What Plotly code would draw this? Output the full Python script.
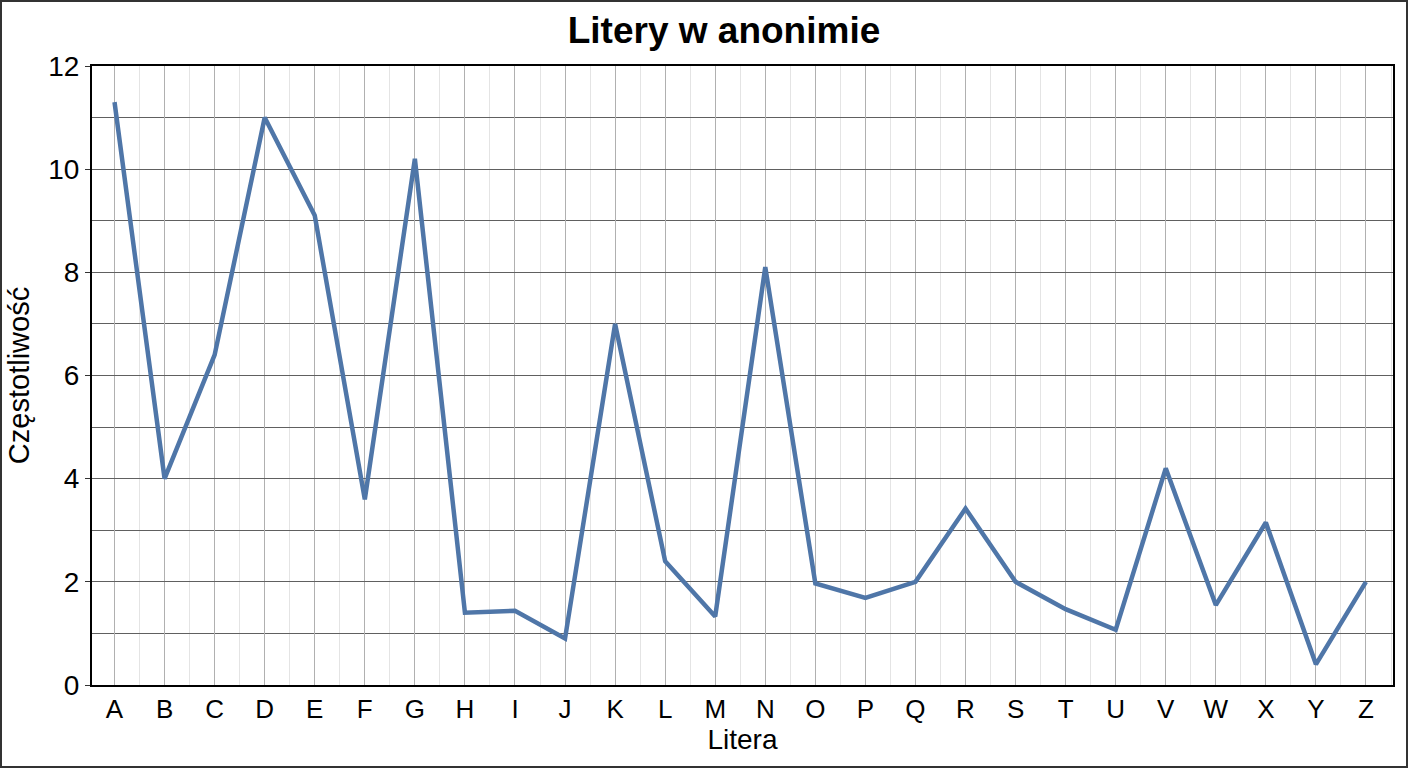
import plotly.graph_objects as go

# letters and their frequency (%)
letters = list("ABCDEFGHIJKLMNOPQRSTUVWXYZ")
freq = [11.3, 4.0, 6.4, 11.0, 9.1, 3.6, 10.2, 1.4, 1.44, 0.9,
        7.0, 2.4, 1.33, 8.1, 1.97, 1.69, 2.0, 3.42, 2.0, 1.47,
        1.07, 4.2, 1.55, 3.15, 0.4, 2.0]
y_ticks = [0, 2, 4, 6, 8, 10, 12]

FONT = "Liberation Sans, Arial, sans-serif"
W, H = 1408, 768
ml, mr, mt, mb = 92, 15, 66, 83
pw, ph = W - ml - mr, H - mt - mb

x_idx = list(range(len(letters)))

fig = go.Figure()
fig.add_trace(go.Scatter(
    x=x_idx,
    y=freq,
    mode="lines",
    line=dict(color="#4f76a8", width=4.5),
    showlegend=False,
))

fig.update_layout(
    width=W,
    height=H,
    margin=dict(l=ml, r=mr, t=mt, b=mb),
    paper_bgcolor="white",
    plot_bgcolor="white",
    font=dict(family=FONT, color="black"),
    title=dict(
        text="<b>Litery w anonimie</b>",
        x=(724 - ml) / pw, xref="paper", xanchor="center",
        y=1 - 30 / H, yanchor="middle",
        font=dict(size=37, family=FONT, color="black"),
    ),
)

# ---- x axis: letters, grid on letters + lighter lines in between ----
fig.update_xaxes(
    range=[-0.45, 25.54],
    tickmode="linear",
    tick0=0,
    dtick=1,
    labelalias={str(i): s for i, s in zip(x_idx, letters)},
    tickfont=dict(size=26),
    ticks="",
    showgrid=True,
    gridcolor="#b0b0b0",
    gridwidth=1,
    minor=dict(tickmode="linear", tick0=0.5, dtick=1, showgrid=True,
               gridcolor="#e4e4e4", gridwidth=1),
    showline=True,
    linecolor="black",
    linewidth=2,
    mirror=True,
    zeroline=False,
    title=dict(text="Litera", font=dict(size=28), standoff=6),
)

# ---- y axis ----
fig.update_yaxes(
    range=[0, 12],
    tickmode="array",
    tickvals=y_ticks,
    tickfont=dict(size=28),
    ticks="outside",
    ticklen=5,
    tickcolor="#333",
    showgrid=True,
    gridcolor="#606060",
    gridwidth=1,
    minor=dict(tickmode="linear", dtick=1, tick0=0, showgrid=True,
               gridcolor="#606060", gridwidth=1),
    showline=True,
    linecolor="black",
    linewidth=2,
    mirror=True,
    zeroline=False,
    title=dict(text="Częstotliwość", font=dict(size=29), standoff=10),
)

# ---- outer border of the picture ----
fig.add_shape(
    type="rect",
    xref="paper", yref="paper",
    x0=(-ml + 1) / pw, x1=1 + (mr - 1) / pw,
    y0=(-mb + 1) / ph, y1=1 + (mt - 1) / ph,
    line=dict(color="#333", width=2),
    layer="below",
)

# the page's default body margin would push the figure off by 8px
fig.write_html(
    "out.html",
    config={"displayModeBar": False},
    post_script="document.body.style.margin='0';",
)
